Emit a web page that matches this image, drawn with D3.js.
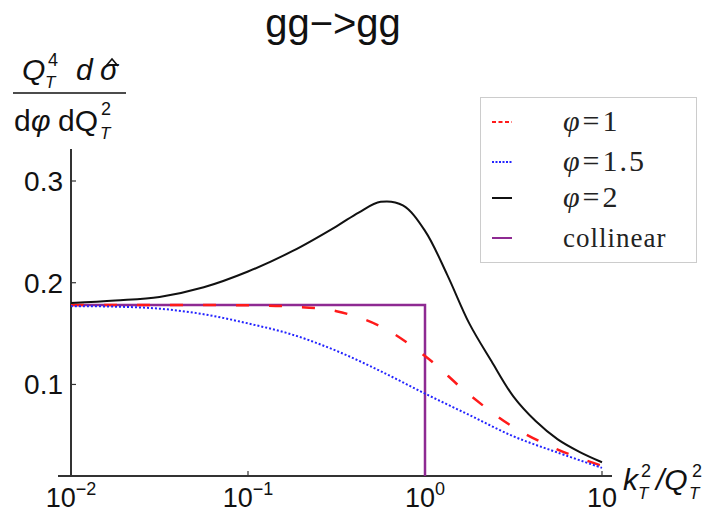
<!DOCTYPE html>
<html>
<head>
<meta charset="utf-8">
<script src="https://cdn.jsdelivr.net/npm/d3@7"></script>
<style>
  body { margin: 0; background: #fff; }
  svg { display: block; }
</style>
</head>
<body>
<div id="graph"></div>
<script>
// valeurs (abscisses en log10 de kT^2/QT^2)
const logK = [-2, -1.75, -1.5, -1.25, -1, -0.75, -0.5, -0.25, 0, 0.25, 0.5, 0.75, 1];
const phi1 = [0.178, 0.178, 0.178, 0.178, 0.1778, 0.1765, 0.172, 0.157, 0.128, 0.090, 0.058, 0.036, 0.020];
const phi15 = [0.177, 0.1765, 0.1745, 0.169, 0.160, 0.149, 0.133, 0.113, 0.091, 0.070, 0.049, 0.033, 0.018];
const logK2 = [-2, -1.75, -1.5, -1.25, -1, -0.75, -0.5, -0.375, -0.25, -0.125, 0, 0.125, 0.25, 0.375, 0.5, 0.625, 0.75, 0.875, 1];
const phi2 = [0.180, 0.1825, 0.186, 0.1955, 0.211, 0.231, 0.2555, 0.269, 0.2795, 0.276, 0.251, 0.208, 0.160, 0.123, 0.088, 0.064, 0.046, 0.0335, 0.0235];
const collX = [0.01, 1, 1];
const collY = [0.178, 0.178, 0.01];
const xTicks = [0.01, 0.1, 1, 10];
const xTickExp = ["\u22122", "\u22121", "0", ""];
const yTicks = [0.1, 0.2, 0.3];
const legNames = ["1", "1.5", "2", "collinear"];

const width = 716, height = 514;

const svg = d3.select("#graph").append("svg")
    .attr("width", width)
    .attr("height", height);

const x = d3.scaleLog().domain([0.01, 10]).range([71, 602]);
const y = d3.scaleLinear().domain([0.01, 0.3]).range([476, 181]);

const sans = "'Liberation Sans', Arial, sans-serif";
const serif = "'Liberation Serif', 'Times New Roman', serif";
const ink = "#111";

// petit utilitaire pour poser un texte
function txt(px, py, s, size, opts = {}) {
    return svg.append("text")
        .attr("x", px).attr("y", py)
        .attr("font-family", opts.family || sans)
        .attr("font-style", opts.italic ? "italic" : null)
        .attr("text-anchor", opts.anchor || null)
        .attr("font-size", size)
        .attr("fill", ink)
        .text(s);
}

// titre
txt(333, 37, "gg\u2212>gg", 40, { anchor: "middle" });

// axes
const axisCol = "#333";
svg.append("line")
    .attr("x1", 58).attr("x2", 612)
    .attr("y1", y(0.01)).attr("y2", y(0.01))
    .attr("stroke", axisCol).attr("stroke-width", 2);
svg.append("line")
    .attr("x1", x(0.01)).attr("x2", x(0.01))
    .attr("y1", 149).attr("y2", y(0.01))
    .attr("stroke", axisCol).attr("stroke-width", 2);

xTicks.forEach((t, i) => {
    svg.append("line")
        .attr("x1", x(t)).attr("x2", x(t))
        .attr("y1", y(0.01)).attr("y2", y(0.01) - 5)
        .attr("stroke", axisCol).attr("stroke-width", 1.2);
    const lab = svg.append("text")
        .attr("x", x(t)).attr("y", 507)
        .attr("text-anchor", "middle")
        .attr("font-family", sans)
        .attr("font-size", 27)
        .attr("fill", ink);
    lab.append("tspan").text("10");
    if (xTickExp[i]) {
        lab.append("tspan").attr("dy", -12).attr("font-size", 18).text(xTickExp[i]);
    }
});

yTicks.forEach(t => {
    svg.append("line")
        .attr("x1", x(0.01)).attr("x2", x(0.01) + 5)
        .attr("y1", y(t)).attr("y2", y(t))
        .attr("stroke", axisCol).attr("stroke-width", 1.2);
    txt(63, y(t) + 10, d3.format(".1f")(t), 28, { anchor: "end" });
});

// titre axe x : kT^2/QT^2
txt(623, 490, "k", 30, { italic: true });
txt(641, 477, "2", 18);
txt(638, 499, "T", 17, { italic: true });
txt(656, 490, "/Q", 30, { italic: true });
txt(692, 477, "2", 18);
txt(689, 499, "T", 17, { italic: true });

// titre axe y (fraction)
txt(22, 80, "Q", 30, { italic: true });
txt(48, 66, "4", 18);
txt(45, 88, "T", 17, { italic: true });
txt(76, 80, "d", 30, { italic: true });
txt(100, 80, "\u03C3", 30, { italic: true });
// accent circonflexe du sigma
svg.append("path")
    .attr("d", "M106,66 L112,59 L118,66")
    .attr("fill", "none")
    .attr("stroke", ink)
    .attr("stroke-width", 1.6);

svg.append("line")
    .attr("x1", 13).attr("x2", 126)
    .attr("y1", 93).attr("y2", 93)
    .attr("stroke", ink).attr("stroke-width", 1.5);

txt(14, 131, "d", 30);
txt(31, 131, "\u03C6", 30, { italic: true });
txt(58, 131, "dQ", 30);
txt(101, 115, "2", 18);
txt(100, 139, "T", 17, { italic: true });

// courbes
const line = d3.line()
    .curve(d3.curveCatmullRom.alpha(0.5))
    .x(d => x(Math.pow(10, d[0])))
    .y(d => y(d[1]));

const series = [
    { lx: logK, vals: phi1, color: "#ff1a1a", dash: "13,20", w: 2.5 },
    { lx: logK, vals: phi15, color: "#2424ff", dash: "2,2", w: 2 },
    { lx: logK2, vals: phi2, color: "#111", dash: null, w: 2 }
];

svg.append("path")
    .attr("d", d3.line().x(d => x(d[0])).y(d => y(d[1]))(d3.zip(collX, collY)))
    .attr("fill", "none")
    .attr("stroke", "#8e2a92")
    .attr("stroke-width", 2.5);

series.forEach(s => {
    svg.append("path")
        .attr("d", line(d3.zip(s.lx, s.vals)))
        .attr("fill", "none")
        .attr("stroke", s.color)
        .attr("stroke-width", s.w)
        .attr("stroke-dasharray", s.dash);
});

// légende
svg.append("rect")
    .attr("x", 480.5).attr("y", 97.5)
    .attr("width", 216).attr("height", 165)
    .attr("fill", "#fff")
    .attr("stroke", "#ccc");

const legColors = ["#ff1a1a", "#2424ff", "#111", "#8e2a92"];
const legDash = ["4,2.5", "2,1.5", null, null];
const legY = [122, 162, 198, 238];

legNames.forEach((name, i) => {
    svg.append("line")
        .attr("x1", 492).attr("x2", 512)
        .attr("y1", legY[i]).attr("y2", legY[i])
        .attr("stroke", legColors[i])
        .attr("stroke-width", 2)
        .attr("stroke-dasharray", legDash[i]);
    const t = svg.append("text")
        .attr("x", 563).attr("y", legY[i] + 9)
        .attr("font-family", serif)
        .attr("fill", "#222");
    if (i < 3) {
        t.attr("font-size", 30);
        t.append("tspan").attr("font-style", "italic").text("\u03C6");
        t.append("tspan").attr("dx", 3).text("=");
        t.append("tspan").attr("dx", 3).attr("letter-spacing", 2).text(name);
    } else {
        t.attr("font-size", 27).attr("letter-spacing", 1).text(name);
    }
});
</script>
</body>
</html>
